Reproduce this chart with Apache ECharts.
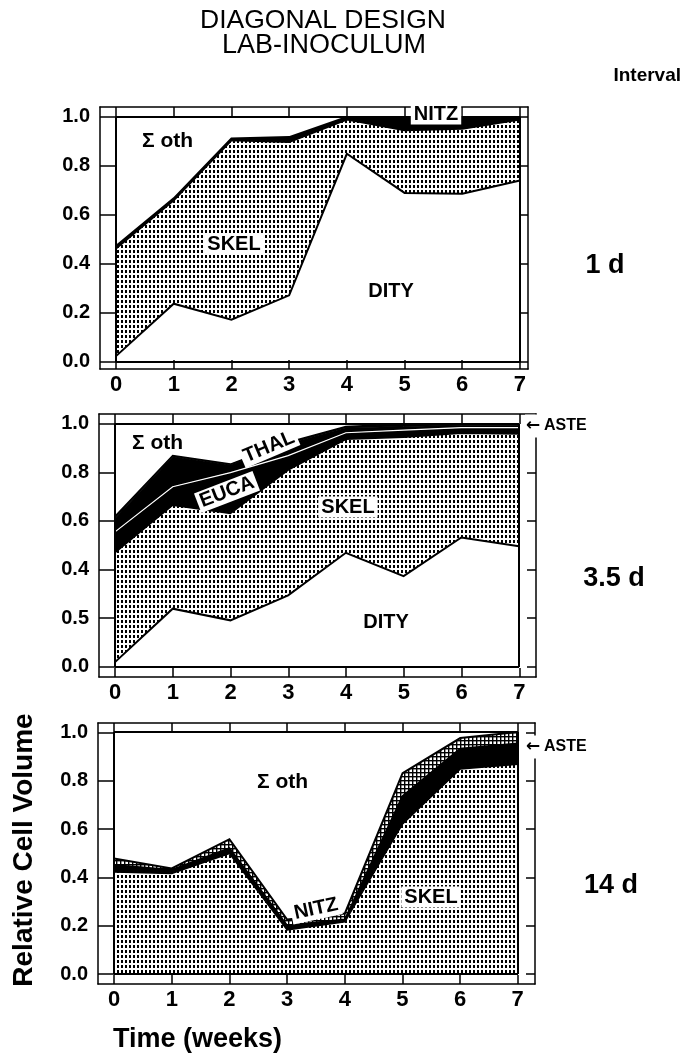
<!DOCTYPE html>
<html><head><meta charset="utf-8">
<script src="https://cdn.jsdelivr.net/npm/echarts@6/dist/echarts.min.js"></script>
<style>html,body{margin:0;padding:0;background:#fff}#c{width:682px;height:1059px}</style>
</head><body><div id="c"></div>
<script>
// ---------- data ----------
const weeks = [0, 1, 2, 3, 4, 5, 6, 7];
const yTicks = [0, 0.2, 0.4, 0.6, 0.8, 1.0];
const yTickLabelsA = ['0.0', '0.2', '0.4', '0.6', '0.8', '1.0'];
const yTickLabelsB = ['0.0', '0.5', '0.4', '0.6', '0.8', '1.0']; // as printed in the middle panel

// Panel 1 (1 d interval) - stacked relative cell volume
const p1Dity = [0.024, 0.238, 0.173, 0.272, 0.850, 0.690, 0.687, 0.741];
const p1Skel = [0.439, 0.422, 0.732, 0.626, 0.140, 0.256, 0.265, 0.249];
const p1Nitz = [0.010, 0.008, 0.007, 0.020, 0.010, 0.054, 0.048, 0.010];
const p1Oth  = [0.527, 0.332, 0.088, 0.082, 0.000, 0.000, 0.000, 0.000];

// Panel 2 (3.5 d interval)
const p2Dity = [0.020, 0.240, 0.192, 0.295, 0.470, 0.374, 0.533, 0.497];
const p2Skel = [0.450, 0.426, 0.440, 0.515, 0.467, 0.571, 0.429, 0.462];
const p2Euca = [0.086, 0.076, 0.168, 0.060, 0.027, 0.030, 0.023, 0.026];
const p2Thal = [0.055, 0.123, 0.031, 0.050, 0.021, 0.015, 0.010, 0.010];
const p2Aste = [0.009, 0.005, 0.004, 0.005, 0.005, 0.010, 0.005, 0.005];
const p2Oth  = [0.380, 0.130, 0.165, 0.075, 0.010, 0.000, 0.000, 0.000];

// Panel 3 (14 d interval)
const p3Skel = [0.422, 0.415, 0.498, 0.182, 0.216, 0.620, 0.847, 0.867];
const p3Aste = [0.028, 0.015, 0.022, 0.018, 0.009, 0.115, 0.084, 0.085];
const p3Nitz = [0.027, 0.006, 0.037, 0.025, 0.025, 0.095, 0.044, 0.048];
const p3Oth  = [0.523, 0.564, 0.443, 0.775, 0.750, 0.170, 0.025, 0.000];

// ---------- patterns ----------
function dotPattern() {
  const c = document.createElement('canvas'); c.width = 4; c.height = 5;
  const g = c.getContext('2d');
  g.fillStyle = '#fff'; g.fillRect(0, 0, 4, 5);
  g.fillStyle = '#000'; g.fillRect(1, 0, 2, 3);
  return { image: c, repeat: 'repeat' };
}
function hatchPattern() {
  const c = document.createElement('canvas'); c.width = 4; c.height = 4;
  const g = c.getContext('2d');
  g.fillStyle = '#fff'; g.fillRect(0, 0, 4, 4);
  g.fillStyle = '#000'; g.fillRect(0, 0, 4, 1.4); g.fillRect(0, 0, 1.4, 4);
  return { image: c, repeat: 'repeat' };
}
const DOTS = dotPattern();
const HATCH = hatchPattern();
const cats = weeks.map(String);

function areaS(p, name, vals, fill) {
  const s = {
    type: 'line', name: name, xAxisIndex: p * 3, yAxisIndex: p * 3, stack: 'a' + p,
    data: vals.slice(), symbol: 'none', silent: true, z: 2,
    lineStyle: { width: 0 }
  };
  if (fill) s.areaStyle = { color: fill, opacity: 1 };
  return s;
}
function lineS(p, name, vals, color, width) {
  return {
    type: 'line', name: name + '-edge', xAxisIndex: p * 3, yAxisIndex: p * 3, stack: 'l' + p,
    data: vals.slice(), symbol: 'none', silent: true, z: 3,
    lineStyle: { color: color, width: width, join: 'miter' }
  };
}
function frameS(p) {
  const a = cats[0], b = cats[cats.length - 1];
  return {
    type: 'line', xAxisIndex: p * 3, yAxisIndex: p * 3, data: [], symbol: 'none',
    silent: true, z: 4, lineStyle: { width: 0 },
    markLine: {
      symbol: 'none', silent: true, animation: false,
      label: { show: false },
      lineStyle: { color: '#000', width: 2, type: 'solid' },
      data: [
        [{ coord: [a, 0] }, { coord: [a, 1] }],
        [{ coord: [b, 0] }, { coord: [b, 1] }],
        [{ coord: [a, 0] }, { coord: [b, 0] }],
        [{ coord: [a, 1] }, { coord: [b, 1] }]
      ]
    }
  };
}

// ---------- layout ----------
const inner = [
  { left: 116, top: 117, width: 404, height: 245 },
  { left: 115, top: 424, width: 404, height: 243 },
  { left: 114, top: 732, width: 404, height: 242 }
];
const outer = [
  { left: 100, top: 107, width: 428, height: 262 },
  { left: 99, top: 414, width: 437, height: 263 },
  { left: 98, top: 723, width: 437, height: 261 }
];
const xMax = [7.14, 7.29, 7.30];
const yMin = [-0.029, -0.042, -0.041];
const yLabelSets = [yTickLabelsA, yTickLabelsB, yTickLabelsA];

const FONT = '"Liberation Sans", Arial, Helvetica, sans-serif';
const grids = [], xAxes = [], yAxes = [];
const AX = { color: '#000', width: 1.5 };
inner.forEach((g, i) => {
  grids.push(g);           // 2i   : data area
  grids.push(outer[i]);    // 2i+1 : frame with ticks
  const gi = 2 * i, go = 2 * i + 1;
  xAxes.push({ gridIndex: gi, type: 'category', data: cats, boundaryGap: false, show: false });
  const xo = {
    gridIndex: go, type: 'value', min: -0.28, max: xMax[i], splitLine: { show: false },
    axisLine: { show: true, onZero: false, lineStyle: AX }
  };
  xAxes.push(Object.assign({}, xo, {
    position: 'bottom',
    axisTick: { show: true, inside: true, length: 9, customValues: weeks, lineStyle: AX },
    axisLabel: { show: true, customValues: weeks, margin: 5, color: '#000', fontFamily: FONT, fontWeight: 'bold', fontSize: 22, formatter: v => String(Math.round(v)) }
  }));
  xAxes.push(Object.assign({}, xo, {
    position: 'top',
    axisTick: { show: true, inside: true, length: 10, customValues: weeks, lineStyle: AX },
    axisLabel: { show: false }
  }));
  yAxes.push({ gridIndex: gi, type: 'value', min: 0, max: 1, show: false });
  const labels = yLabelSets[i];
  const yo = {
    gridIndex: go, type: 'value', min: yMin[i], max: 1.04, splitLine: { show: false },
    axisLine: { show: true, onZero: false, lineStyle: AX }
  };
  yAxes.push(Object.assign({}, yo, {
    position: 'left',
    axisTick: { show: true, inside: true, length: 16, customValues: yTicks, lineStyle: AX },
    axisLabel: {
      show: true, customValues: yTicks, margin: 10, color: '#000', fontFamily: FONT, fontWeight: 'bold', fontSize: 20,
      formatter: v => { const k = yTicks.findIndex(t => Math.abs(t - v) < 1e-6); return k >= 0 ? labels[k] : ''; }
    }
  }));
  yAxes.push(Object.assign({}, yo, {
    position: 'right',
    axisTick: { show: true, inside: true, length: 9, customValues: yTicks, lineStyle: AX },
    axisLabel: { show: false }
  }));
});

const series = [
  // panel 1
  areaS(0, 'DITY', p1Dity, null),
  areaS(0, 'SKEL', p1Skel, DOTS),
  areaS(0, 'NITZ', p1Nitz, '#000'),
  areaS(0, 'Σ oth', p1Oth, null),
  lineS(0, 'DITY', p1Dity, '#000', 2),
  lineS(0, 'SKEL', p1Skel, '#000', 2),
  lineS(0, 'NITZ', p1Nitz, '#000', 2),
  lineS(0, 'Σ oth', p1Oth, '#000', 2),
  frameS(0),
  // panel 2
  areaS(1, 'DITY', p2Dity, null),
  areaS(1, 'SKEL', p2Skel, DOTS),
  areaS(1, 'EUCA', p2Euca, '#000'),
  areaS(1, 'THAL', p2Thal, '#000'),
  areaS(1, 'ASTE', p2Aste, '#000'),
  areaS(1, 'Σ oth', p2Oth, null),
  lineS(1, 'DITY', p2Dity, '#000', 2),
  lineS(1, 'SKEL', p2Skel, '#000', 1.5),
  lineS(1, 'EUCA', p2Euca, '#fff', 1.2),
  lineS(1, 'THAL', p2Thal, '#000', 1),
  lineS(1, 'ASTE', p2Aste, '#000', 1.5),
  lineS(1, 'Σ oth', p2Oth, '#000', 2),
  frameS(1),
  // panel 3
  areaS(2, 'SKEL', p3Skel, DOTS),
  areaS(2, 'ASTE', p3Aste, '#000'),
  areaS(2, 'NITZ', p3Nitz, HATCH),
  areaS(2, 'Σ oth', p3Oth, null),
  lineS(2, 'SKEL', p3Skel, '#000', 1.5),
  lineS(2, 'ASTE', p3Aste, '#000', 2),
  lineS(2, 'NITZ', p3Nitz, '#000', 2),
  lineS(2, 'Σ oth', p3Oth, '#000', 2),
  frameS(2)
];

function txt(text, x, y, size, opts) {
  opts = opts || {};
  const el = {
    type: 'text', x: x, y: y, z: 100, rotation: (opts.rot || 0) * Math.PI / 180,
    style: {
      text: text, fill: '#000', align: opts.align || 'center', verticalAlign: 'middle',
      font: (opts.normal ? '' : 'bold ') + size + 'px ' + (opts.family || FONT)
    }
  };
  if (opts.bg) { el.style.backgroundColor = '#fff'; el.style.padding = opts.pad || [1, 3, 0, 3]; }
  return el;
}

const graphics = [
  txt('DIAGONAL DESIGN', 323, 21, 26.5, { normal: true }),
  txt('LAB-INOCULUM', 324, 46, 27, { normal: true }),
  txt('Interval', 681, 76, 19, { align: 'right' }),
  txt('1 d', 605, 266, 27),
  txt('3.5 d', 614, 579, 27),
  txt('14 d', 611, 886, 27),
  txt('Time (weeks)', 113, 1040, 27, { align: 'left' }),
  txt('Relative Cell Volume', 24, 850, 28, { rot: 90 }),
  // panel 1 labels
  txt('Σ oth', 142, 141, 21, { align: 'left' }),
  txt('SKEL', 234, 244, 20, { bg: true }),
  txt('DITY', 391, 291, 20, { bg: true }),
  txt('NITZ', 436, 114, 20, { bg: true }),
  // panel 2 labels
  txt('Σ oth', 132, 443, 21, { align: 'left' }),
  txt('THAL', 269, 447, 20, { bg: true, rot: 23 }),
  txt('EUCA', 227, 492, 20, { bg: true, rot: 21 }),
  txt('SKEL', 348, 507, 20, { bg: true }),
  txt('DITY', 386, 622, 20, { bg: true }),
  txt('←', 525, 426, 17, { align: 'left', family: '"DejaVu Sans", sans-serif', bg: true, pad: [3, 1, 3, 1] }),
  txt('ASTE', 544, 426, 16, { align: 'left' }),
  // panel 3 labels
  txt('Σ oth', 257, 782, 21, { align: 'left' }),
  txt('NITZ', 316, 909, 20, { bg: true, rot: 12 }),
  txt('SKEL', 431, 897, 20, { bg: true }),
  txt('←', 525, 747, 17, { align: 'left', family: '"DejaVu Sans", sans-serif', bg: true, pad: [3, 1, 3, 1] }),
  txt('ASTE', 544, 747, 16, { align: 'left' })
];

const chart = echarts.init(document.getElementById('c'), null, { renderer: 'canvas' });
chart.setOption({
  animation: false,
  backgroundColor: '#fff',
  grid: grids,
  xAxis: xAxes,
  yAxis: yAxes,
  series: series,
  graphic: graphics
});
</script>
</body></html>
